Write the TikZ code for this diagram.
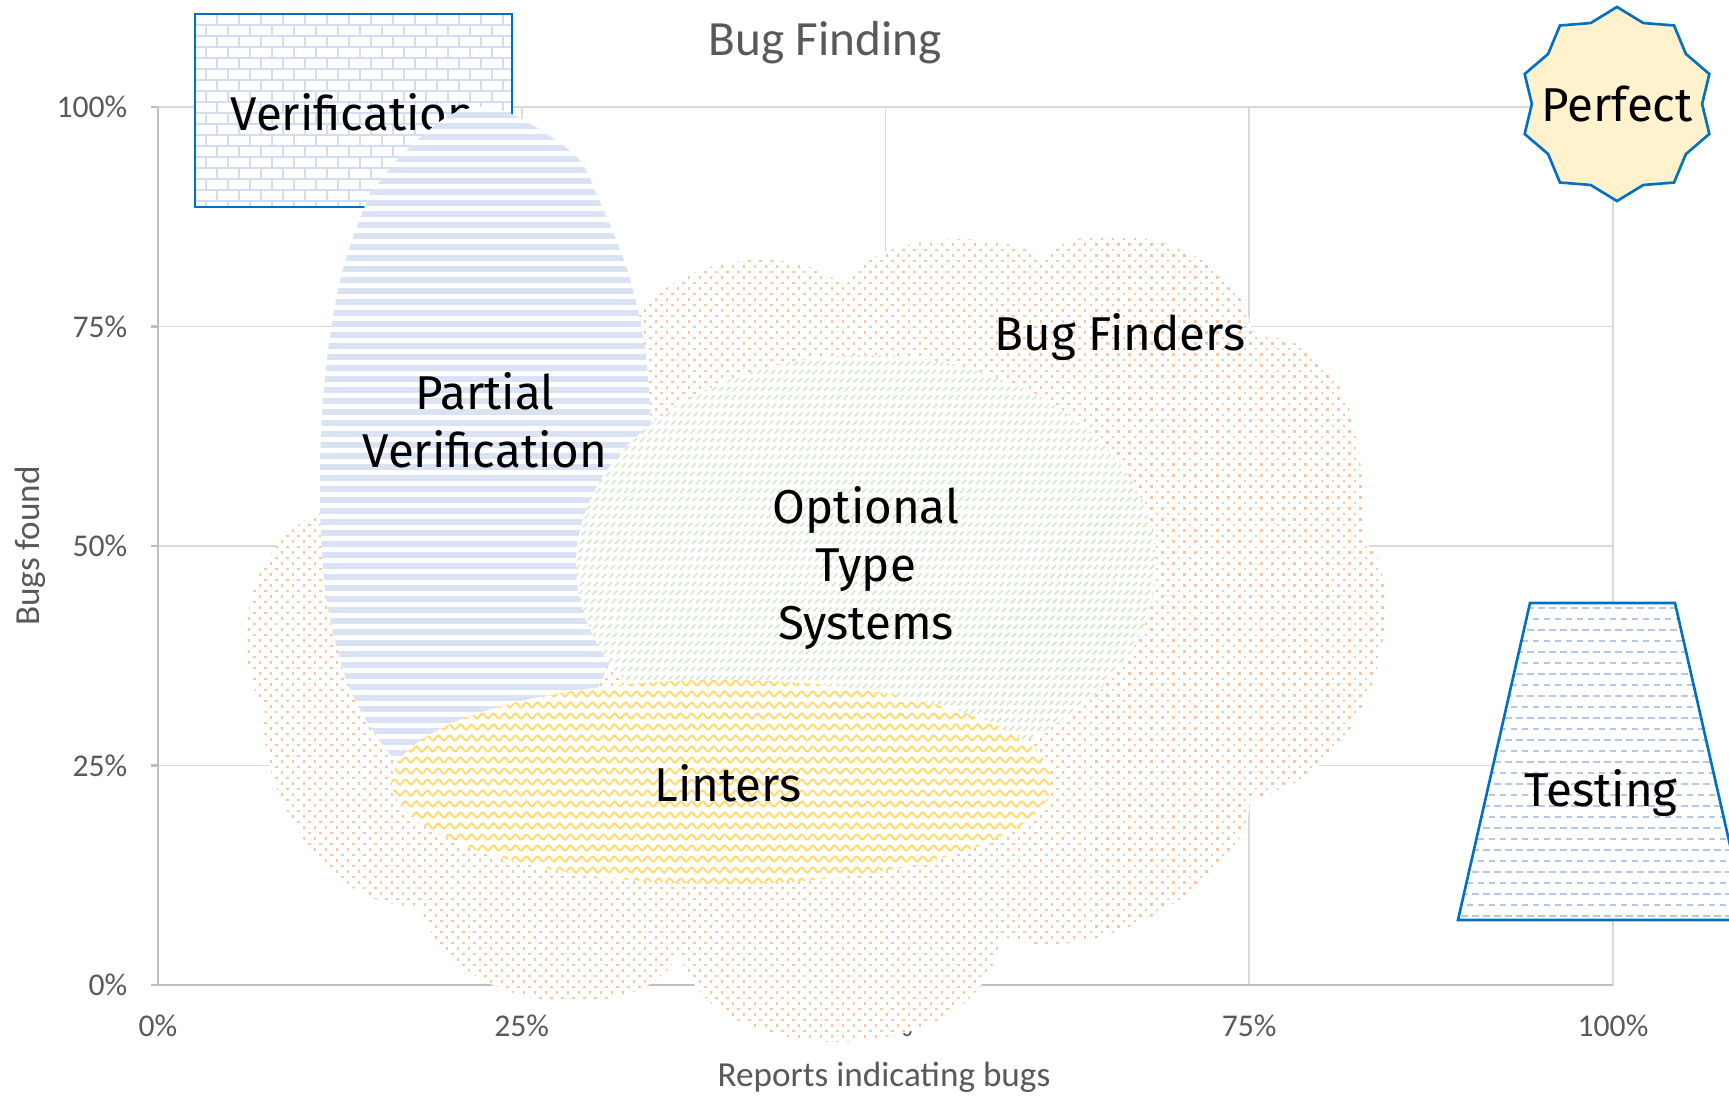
\documentclass[tikz,border=0pt]{standalone}
\usepackage{fontspec}
\setmainfont{Carlito}
\newfontfamily\handfont{Fira Sans}
\usetikzlibrary{shapes.geometric,decorations.pathmorphing}
\definecolor{Slate}{HTML}{595959}
\definecolor{Grid}{HTML}{D9D9D9}
\definecolor{Axis}{HTML}{BFBFBF}
\definecolor{Ocean}{HTML}{0070C0}
\definecolor{Mist}{HTML}{DAE3F3}
\definecolor{Brick}{HTML}{D2DDF1}
\definecolor{Sky}{HTML}{B4C7E7}
\definecolor{Peach}{HTML}{F7C6A3}
\definecolor{Sage}{HTML}{CDE5BE}
\definecolor{Gold}{HTML}{FFDB70}
\definecolor{Cream}{HTML}{FFF2CC}

\tikzset{
  ticklabel/.style={text=Slate, font=\fontsize{9}{11}\selectfont, inner sep=0pt},
  axistitle/.style={text=Slate, font=\fontsize{10}{12}\selectfont},
  blobtext/.style={font=\handfont\fontsize{13.5}{16.4}\selectfont, align=center, inner sep=0pt},
  gridline/.style={Grid, line width=0.45pt},
  axisline/.style={Axis, line width=0.6pt},
  outline/.style={Ocean, line width=0.75pt, line join=miter},
  dotrow/.style={Peach, line width=0.025cm, dash pattern=on 0.025cm off 0.085cm},
  striperow/.style={Mist, line width=0.055cm},
  hatchrow/.style={Sage, line width=0.014cm, dash pattern=on 0.06cm off 0.06cm},
  waverow/.style={Gold, line width=0.02cm, decorate, decoration={snake, segment length=0.11cm, amplitude=0.025cm}},
  dashrow/.style={Sky, line width=0.02cm, dash pattern=on 0.065cm off 0.045cm},
  brickrow/.style={Brick, line width=0.025cm},
}

\newcommand\bugcloud{(620,360) .. controls (640,245) and (810,240) .. (845,290)
  .. controls (860,228) and (1020,228) .. (1045,262)
  .. controls (1060,215) and (1240,225) .. (1252,335)
  .. controls (1340,335) and (1368,420) .. (1362,540)
  .. controls (1410,570) and (1390,770) .. (1250,800)
  .. controls (1250,880) and (1090,975) .. (1000,935)
  .. controls (990,1075) and (700,1075) .. (680,950)
  .. controls (650,1030) and (450,1020) .. (420,905)
  .. controls (330,915) and (255,790) .. (265,710)
  .. controls (230,660) and (235,520) .. (360,500)
  -- cycle}
\newcommand\partialblob{plot[smooth cycle] coordinates {(480,107) (520,118) (577,157) (600,202)
  (627,269) (643,336) (650,402) (650,470) (642,540) (622,630) (580,720) (510,790) (440,792)
  (397,762) (363,715) (343,670) (327,603) (321,536) (320,469) (323,402) (330,336) (343,269)
  (367,202) (400,157) (445,118)}}
\newcommand\testingshape{(1458,920) -- (1530,603) -- (1675,603) -- (1747,920) -- cycle}

\begin{document}
\begin{tikzpicture}[x=0.01cm, y=-0.01cm]
    \useasboundingbox (0,0) rectangle (1729,1100);
    \fill[white] (0,0) rectangle (1729,1100);

    \foreach \gx in {521.75,885.5,1249.25,1613} {
      \draw[gridline] (\gx,107) -- (\gx,985);
    }
    \foreach \gy in {107,326.5,546,765.5} {
      \draw[gridline] (158,\gy) -- (1613,\gy);
    }
    \draw[axisline] (158,107) -- (158,985) -- (1613,985);
    \foreach \p/\gy in {0/985,25/765.5,50/546,75/326.5,100/107} {
      \draw[axisline] (151,\gy) -- (158,\gy);
      \node[ticklabel, anchor=east] (ytick\p) at (128,\gy) {\p\%};
    }
    \foreach \p/\gx in {0/158,25/521.75,50/885.5,75/1249.25,100/1613} {
      \node[ticklabel] (xtick\p) at (\gx,1026) {\p\%};
    }
    \node[text=Slate, font=\fontsize{14}{17}\selectfont] (title) at (825,43) {Bug Finding};
    \node[axistitle, rotate=90] (ytitle) at (30,546) {Bugs found};
    \node[axistitle] (xtitle) at (884,1077) {Reports indicating bugs};

    \begin{scope}
      \clip \bugcloud;
      \fill[white] (200,200) rectangle (1420,1060);
      \foreach \r in {0,...,75} {
        \draw[dotrow] (220,228+11*\r) -- (1400,228+11*\r);
        \draw[dotrow] (225.5,233.5+11*\r) -- (1400,233.5+11*\r);
      }
    \end{scope}
    \node[blobtext] (bugfinders) at (1120,337) {Bug Finders};

    \begin{scope}
      \clip (195,14) rectangle (512,207);
      \fill[white] (195,14) rectangle (512,207);
      \foreach \r in {0,...,17} {
        \draw[brickrow] (195,14+11*\r) -- (512,14+11*\r);
      }
      \foreach \c in {0,...,29} {
        \draw[brickrow, dash pattern=on 0.11cm off 0.11cm] (195+11*\c,{14+11*mod(\c,2)}) -- (195+11*\c,207);
      }
    \end{scope}
    \draw[outline] (195,14) rectangle (512,207);
    \node[blobtext] (verification) at (353,112) {Verification};

    \begin{scope}
      \clip \partialblob;
      \fill[white] (300,100) rectangle (670,810);
      \foreach \r in {0,...,64} {
        \draw[striperow] (300,104+11*\r) -- (670,104+11*\r);
      }
    \end{scope}
    \node[blobtext] (partial) at (485,420) {Partial\\Verification};

    \begin{scope}
      \clip (866,565) ellipse [x radius=290, y radius=210];
      \fill[white] (560,340) rectangle (1170,790);
      \foreach \k in {0,...,150} {
        \draw[hatchrow] (110+7*\k,790) -- (570+7*\k,330);
      }
    \end{scope}
    \node[blobtext] (optional) at (866,568) {Optional\\Type\\Systems};

    \begin{scope}
      \clip (722,782) ellipse [x radius=330, y radius=102];
      \fill[white] (380,670) rectangle (1060,890);
      \foreach \r in {0,...,20} {
        \draw[waverow] (380,672+11*\r) -- (1070,672+11*\r);
      }
    \end{scope}
    \node[blobtext] (linters) at (728,783) {Linters};

    \begin{scope}
      \clip \testingshape;
      \fill[white] (1450,600) rectangle (1750,925);
      \foreach \r in {0,...,14} {
        \draw[dashrow] (1450,608+22*\r) -- (1750,608+22*\r);
        \draw[dashrow] (1455.5,619+22*\r) -- (1750,619+22*\r);
      }
    \end{scope}
    \draw[outline] \testingshape;
    \node[blobtext] (testing) at (1601,793) {Testing};

    \node[star, star points=10, star point ratio=1.14, minimum size=1.94cm, inner sep=0pt,
      draw=Ocean, fill=Cream, line width=0.75pt] (perfectstar) at (1617,104) {};
    \node[blobtext] (perfect) at (perfectstar.center) {Perfect};
  \end{tikzpicture}
\end{document}
